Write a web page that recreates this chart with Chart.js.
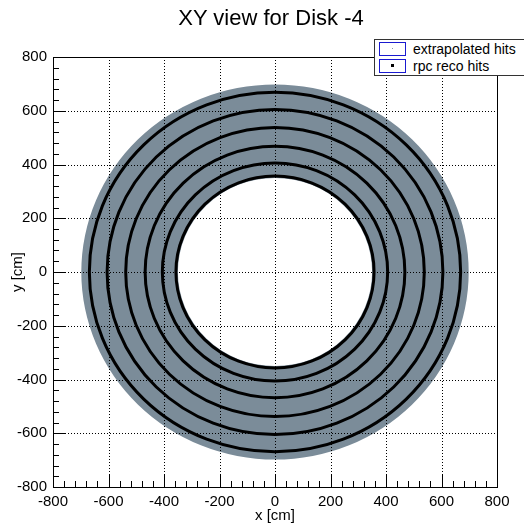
<!DOCTYPE html>
<html>
<head>
<meta charset="utf-8">
<script src="https://cdn.jsdelivr.net/npm/chart.js@4.4.0/dist/chart.umd.min.js"></script>
<style>
  html, body { margin: 0; padding: 0; background: #fff; }
  #wrap { position: relative; width: 524px; height: 525px; overflow: hidden; font-family: "Liberation Sans", Arial, sans-serif; }
  #title { position: absolute; left: 0; width: 542px; top: 4px; text-align: center; font-size: 22px; color: #000; line-height: 28px; }
  #legend { position: absolute; left: 374px; top: 39px; width: 152px; height: 37px; border: 1px solid #333; background: #fff; box-sizing: border-box; }
  .entry { position: absolute; left: 4px; height: 15px; width: 140px; }
  .sym { position: absolute; left: 0; top: 0; width: 27px; height: 14px; border: 1px solid #1a1ad0; box-sizing: border-box; }
  .sym i { position: absolute; left: 50%; top: 50%; display: block; }
  .lab { position: absolute; left: 34px; top: -2px; font-size: 14px; line-height: 18px; color: #000; white-space: nowrap; }
</style>
</head>
<body>
<div id="wrap">
  <canvas id="c" width="524" height="525"></canvas>
  <div id="title">XY view for Disk -4</div>
  <div id="legend">
    <div class="entry" style="top:2px"><div class="sym"><i style="width:1px;height:1px;margin:-1px 0 0 -1px;background:#8a9aa6"></i></div><div class="lab">extrapolated hits</div></div>
    <div class="entry" style="top:19px"><div class="sym"><i style="width:3px;height:3px;margin:-2px 0 0 -2px;background:#000"></i></div><div class="lab">rpc reco hits</div></div>
  </div>
</div>
<script>
// ---- data (cm) ----
const seriesLabels = ['extrapolated hits', 'rpc reco hits'];
const extrapolatedBand = [350, 698];           // inner / outer radius of extrapolated-hit annulus
const rpcRingRadii = [357, 406, 468, 538, 605, 669]; // radii of rpc reco hit rings
const axisTicks = [-800, -600, -400, -200, 0, 200, 400, 600, 800];
const minorStep = 40;
const axisMin = -800, axisMax = 800;

const bandColor = '#7b8c99';

const ringPlugin = {
  id: 'rings',
  beforeDatasetsDraw(chart) {
    const {ctx, chartArea: a, scales: {x, y}} = chart;
    const cx = x.getPixelForValue(0), cy = y.getPixelForValue(0);
    const band = chart.data.datasets[0].radii;
    ctx.save();
    ctx.beginPath();
    ctx.rect(a.left, a.top, a.right - a.left, a.bottom - a.top);
    ctx.clip();
    // annulus
    ctx.beginPath();
    ctx.ellipse(cx, cy, x.getPixelForValue(band[1]) - cx, cy - y.getPixelForValue(band[1]), 0, 0, Math.PI * 2);
    ctx.moveTo(x.getPixelForValue(band[0]), cy);
    ctx.ellipse(cx, cy, x.getPixelForValue(band[0]) - cx, cy - y.getPixelForValue(band[0]), 0, 0, Math.PI * 2, true);
    ctx.fillStyle = bandColor;
    ctx.fill('evenodd');
    // grid (dotted)
    ctx.strokeStyle = '#000';
    ctx.lineWidth = 1;
    ctx.setLineDash([1, 2]);
    axisTicks.forEach(v => {
      if (v === axisMin || v === axisMax) return;
      const px = Math.round(x.getPixelForValue(v)) + 0.5;
      ctx.beginPath(); ctx.moveTo(px, a.top); ctx.lineTo(px, a.bottom); ctx.stroke();
      const py = Math.round(y.getPixelForValue(v)) + 0.5;
      ctx.beginPath(); ctx.moveTo(a.left, py); ctx.lineTo(a.right, py); ctx.stroke();
    });
    ctx.setLineDash([]);
    // rings
    const rings = chart.data.datasets[1].radii;
    ctx.strokeStyle = '#000';
    ctx.lineWidth = 3;
    rings.forEach(r => {
      ctx.beginPath();
      ctx.ellipse(cx, cy, x.getPixelForValue(r) - cx, cy - y.getPixelForValue(r), 0, 0, Math.PI * 2);
      ctx.stroke();
    });
    ctx.restore();
  },
  afterDatasetsDraw(chart) {
    const {ctx, chartArea: a, scales: {x, y}} = chart;
    ctx.save();
    ctx.strokeStyle = '#000';
    ctx.lineWidth = 1;
    ctx.strokeRect(Math.round(a.left) + 0.5, Math.round(a.top) + 0.5, Math.round(a.right - a.left), Math.round(a.bottom - a.top));
    for (let v = axisMin; v <= axisMax; v += minorStep) {
      const len = (v % 200 === 0) ? 12 : 6;
      const px = Math.round(x.getPixelForValue(v)) + 0.5;
      ctx.beginPath(); ctx.moveTo(px, a.bottom); ctx.lineTo(px, a.bottom - len); ctx.stroke();
      const py = Math.round(y.getPixelForValue(v)) + 0.5;
      ctx.beginPath(); ctx.moveTo(a.left, py); ctx.lineTo(a.left + len, py); ctx.stroke();
    }
    ctx.restore();
  }
};

const tickFont = {family: '"Liberation Sans", Arial, sans-serif', size: 15};

new Chart(document.getElementById('c'), {
  type: 'scatter',
  data: {
    datasets: [
      {label: seriesLabels[0], radii: extrapolatedBand, data: [], pointRadius: 0},
      {label: seriesLabels[1], radii: rpcRingRadii, data: [], pointRadius: 0}
    ]
  },
  options: {
    responsive: false,
    animation: false,
    events: [],
    layout: {padding: {top: 57, right: 27, left: 0, bottom: 0}},
    plugins: {legend: {display: false}, tooltip: {enabled: false}, title: {display: false}},
    scales: {
      x: {
        type: 'linear', min: axisMin, max: axisMax,
        afterBuildTicks: s => { s.ticks = axisTicks.map(v => ({value: v})); },
        afterFit: s => { s.height = 38; },
        grid: {display: false, drawTicks: false},
        border: {display: false},
        ticks: {color: '#000', font: tickFont, padding: 6, maxRotation: 0, autoSkip: false},
        title: {display: true, text: 'x [cm]', color: '#000', font: tickFont, padding: {top: 0, bottom: 0}}
      },
      y: {
        type: 'linear', min: axisMin, max: axisMax,
        afterBuildTicks: s => { s.ticks = axisTicks.map(v => ({value: v})); },
        afterFit: s => { s.width = 53; },
        grid: {display: false, drawTicks: false},
        border: {display: false},
        ticks: {color: '#000', font: tickFont, padding: 6, autoSkip: false},
        title: {display: true, text: 'y [cm]', color: '#000', font: tickFont, padding: {top: 9, bottom: 0}}
      }
    }
  },
  plugins: [ringPlugin]
});
</script>
</body>
</html>
